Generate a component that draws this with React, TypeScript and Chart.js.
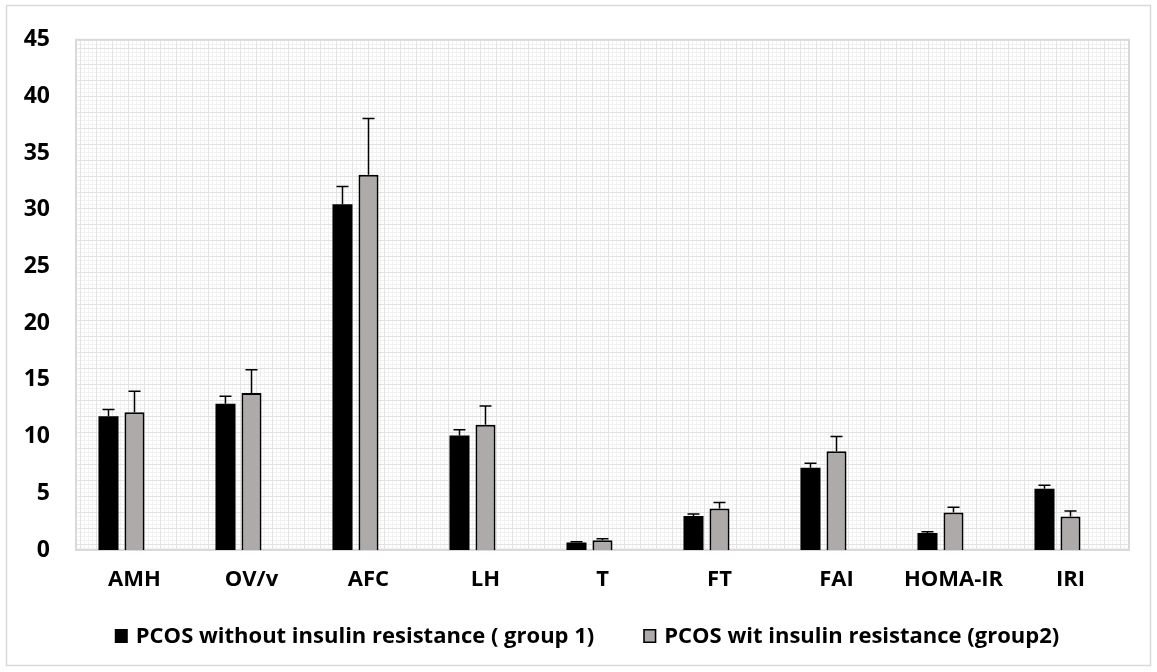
import React, { useEffect, useRef } from "react";
import { Chart, registerables } from "chart.js";

Chart.register(...registerables);

const categories = ["AMH", "OV/v", "AFC", "LH", "T", "FT", "FAI", "HOMA-IR", "IRI"];
const group1Values = [11.8, 12.9, 30.5, 10.1, 0.67, 3.0, 7.25, 1.5, 5.4];
const group1Errors = [0.6, 0.65, 1.55, 0.5, 0.06, 0.18, 0.4, 0.1, 0.3];
const group2Values = [12.15, 13.85, 33.1, 11.05, 0.87, 3.66, 8.7, 3.3, 2.96];
const group2Errors = [1.85, 2.05, 4.95, 1.65, 0.12, 0.53, 1.3, 0.48, 0.47];
const emptySeries = [0, 0, 0, 0, 0, 0, 0, 0, 0];
const seriesLabels = [
  "PCOS without insulin resistance ( group 1)",
  "PCOS wit insulin resistance (group2)",
];
const yMin = 0;
const yMax = 45;
const yStep = 5;

const FONT = '"Open Sans", Lato, "Liberation Sans", sans-serif';

function makePattern(ctx: CanvasRenderingContext2D) {
  const c = document.createElement("canvas");
  c.width = 16;
  c.height = 16;
  const p = c.getContext("2d")!;
  p.fillStyle = "#ffffff";
  p.fillRect(0, 0, 16, 16);
  p.fillStyle = "#f1f1f1";
  for (let k = 4; k < 16; k += 4) {
    p.fillRect(0, k, 16, 1);
    p.fillRect(k, 0, 1, 16);
  }
  p.fillStyle = "#e2e2e2";
  p.fillRect(0, 0, 16, 1);
  p.fillRect(0, 0, 1, 16);
  return ctx.createPattern(c, "repeat");
}

const backgroundPlugin = {
  id: "bgPlugin",
  beforeDraw(chart: any) {
    const { ctx, chartArea, width, height } = chart;
    ctx.save();
    ctx.fillStyle = "#ffffff";
    ctx.fillRect(0, 0, width, height);
    ctx.strokeStyle = "#d9d9d9";
    ctx.lineWidth = 1.5;
    ctx.strokeRect(6.5, 5.5, 1144, 660);
    const pat = makePattern(ctx);
    if (pat) {
      ctx.fillStyle = pat;
      ctx.fillRect(chartArea.left, chartArea.top, chartArea.right - chartArea.left, chartArea.bottom - chartArea.top);
    }
    ctx.strokeStyle = "#d9d9d9";
    ctx.lineWidth = 2;
    ctx.strokeRect(chartArea.left, chartArea.top, chartArea.right - chartArea.left, chartArea.bottom - chartArea.top);
    ctx.restore();
  },
};

const errorBarPlugin = {
  id: "errorBars",
  afterDatasetsDraw(chart: any) {
    const ctx = chart.ctx;
    const yScale = chart.scales.y;
    const sets: [number, number[], number[]][] = [
      [0, group1Values, group1Errors],
      [1, group2Values, group2Errors],
    ];
    ctx.save();
    ctx.strokeStyle = "#000000";
    ctx.lineWidth = 1.5;
    sets.forEach(([di, vals, errs]) => {
      const meta = chart.getDatasetMeta(di);
      meta.data.forEach((bar: any, i: number) => {
        const x = bar.x;
        const top = yScale.getPixelForValue(vals[i]);
        const end = yScale.getPixelForValue(vals[i] + errs[i]);
        ctx.beginPath();
        ctx.moveTo(x, top);
        ctx.lineTo(x, end);
        ctx.moveTo(x - 6, end);
        ctx.lineTo(x + 6, end);
        ctx.stroke();
      });
    });
    ctx.restore();
  },
};

const legendPlugin = {
  id: "customLegend",
  afterDraw(chart: any) {
    const ctx = chart.ctx;
    ctx.save();
    ctx.font = `bold 22px ${FONT}`;
    ctx.textBaseline = "middle";
    ctx.textAlign = "left";
    const box = 13;
    const gap = 8;
    const itemGap = 49;
    const w1 = ctx.measureText(seriesLabels[0]).width;
    const w2 = ctx.measureText(seriesLabels[1]).width;
    const total = box + gap + w1 + itemGap + box + gap + w2;
    let x = 587 - total / 2;
    const yc = 636;
    ctx.fillStyle = "#000000";
    ctx.fillRect(x, yc - 7, box, 14);
    x += box + gap;
    ctx.fillStyle = "#000000";
    ctx.fillText(seriesLabels[0], x, yc + 1);
    x += w1 + itemGap;
    ctx.fillStyle = "#AEAAAA";
    ctx.fillRect(x, yc - 7, box, 14);
    ctx.strokeStyle = "#000000";
    ctx.lineWidth = 1.5;
    ctx.strokeRect(x + 0.75, yc - 6.25, box - 1.5, 12.5);
    x += box + gap;
    ctx.fillStyle = "#000000";
    ctx.fillText(seriesLabels[1], x, yc + 1);
    ctx.restore();
  },
};

export default function App() {
  const canvasRef = useRef<HTMLCanvasElement | null>(null);

  useEffect(() => {
    if (!canvasRef.current) return;
    const chart = new Chart(canvasRef.current, {
      type: "bar",
      data: {
        labels: categories,
        datasets: [
          {
            label: seriesLabels[0],
            data: group1Values,
            backgroundColor: "#000000",
            borderColor: "#000000",
            borderWidth: 0,
            categoryPercentage: 0.667,
            barPercentage: 0.77,
          },
          {
            label: seriesLabels[1],
            data: group2Values,
            backgroundColor: "#AEAAAA",
            borderColor: "#000000",
            borderWidth: 2,
            categoryPercentage: 0.667,
            barPercentage: 0.77,
          },
          {
            label: "",
            data: emptySeries,
            backgroundColor: "rgba(0,0,0,0)",
            borderWidth: 0,
            categoryPercentage: 0.667,
            barPercentage: 0.77,
          },
        ],
      },
      options: {
        animation: false,
        responsive: false,
        devicePixelRatio: 1,
        layout: { padding: { top: 33, right: 28, left: 0, bottom: 0 } },
        plugins: {
          legend: { display: false },
          tooltip: { enabled: false },
        },
        scales: {
          x: {
            grid: { display: false, drawTicks: false },
            border: { display: false },
            ticks: {
              color: "#000000",
              padding: 17,
              font: { family: FONT, size: 22, weight: "bold" },
            },
            afterFit: (scale: any) => {
              scale.height = 122;
            },
          },
          y: {
            min: yMin,
            max: yMax,
            grid: { display: false, drawTicks: false },
            border: { display: false },
            ticks: {
              stepSize: yStep,
              color: "#000000",
              padding: 26,
              font: { family: FONT, size: 23, weight: "bold" },
            },
            afterFit: (scale: any) => {
              scale.width = 76;
            },
          },
        },
      } as any,
      plugins: [backgroundPlugin, errorBarPlugin, legendPlugin],
    });
    return () => chart.destroy();
  }, []);

  return (
    <div style={{ position: "absolute", left: 0, top: 0, width: 1157, height: 672, background: "#ffffff" }}>
      <canvas ref={canvasRef} width={1157} height={672} style={{ width: 1157, height: 672, display: "block" }} />
    </div>
  );
}
